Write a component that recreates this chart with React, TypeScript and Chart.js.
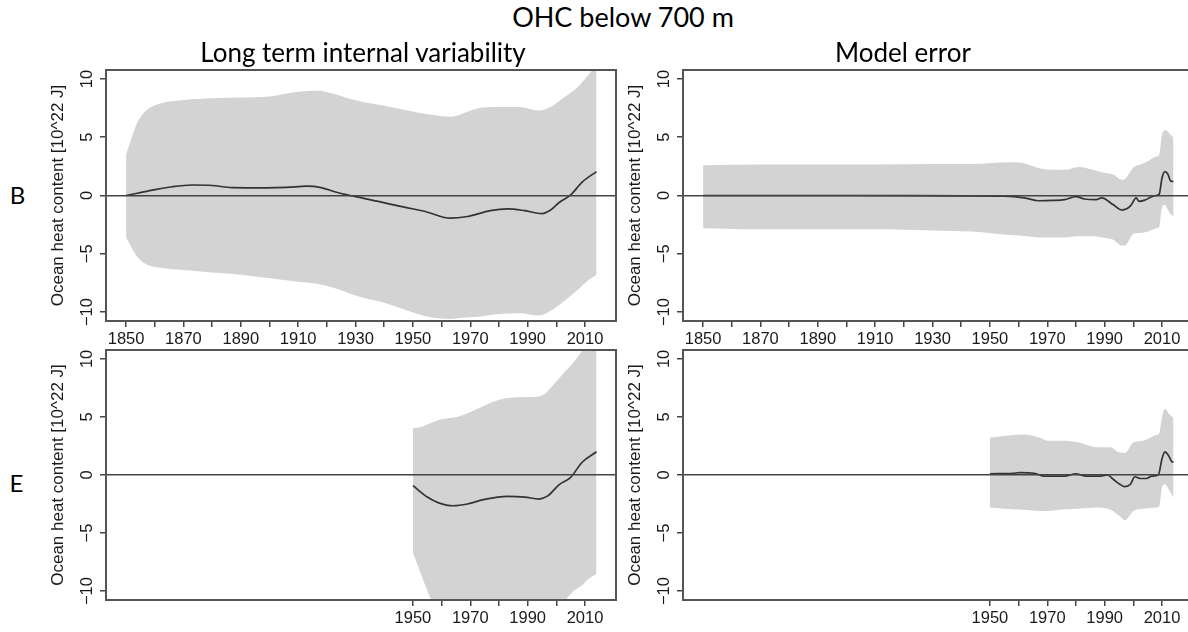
import React, { useEffect, useRef } from 'react';
import { Chart, registerables } from 'chart.js';

Chart.register(...registerables);

// ---------- text ----------
const mainTitle = 'OHC below 700 m';
const columnTitles = ['Long term internal variability', 'Model error'];
const rowLabels = ['B', 'E'];
const yAxisTitle = 'Ocean heat content [10^22 J]';

// ---------- axes ----------
const xTicksFull = [1850, 1860, 1870, 1880, 1890, 1900, 1910, 1920, 1930, 1940, 1950, 1960, 1970, 1980, 1990, 2000, 2010];
const xLabelsFull = [1850, 1870, 1890, 1910, 1930, 1950, 1970, 1990, 2010];
const xTicksRecent = [1950, 1960, 1970, 1980, 1990, 2000, 2010];
const xLabelsRecent = [1950, 1970, 1990, 2010];
const yTicks = [-10, -5, 0, 5, 10];

// ---------- B, long term internal variability ----------
const bandYearsB = [1850, 1852, 1854, 1857, 1862, 1870, 1880, 1890, 1900, 1910, 1917, 1922, 1928, 1933, 1940, 1946, 1952, 1957, 1963, 1967, 1973, 1979, 1987, 1994, 1998, 2002, 2007, 2011, 2014];
const upperB = [3.5, 5.0, 6.3, 7.3, 7.9, 8.2, 8.35, 8.4, 8.5, 8.9, 9.0, 8.75, 8.3, 8.0, 7.7, 7.4, 7.1, 6.9, 6.75, 7.0, 7.5, 7.6, 7.6, 7.3, 7.6, 8.3, 9.2, 10.3, 11.2];
const lowerB = [-3.6, -4.5, -5.3, -5.9, -6.2, -6.4, -6.6, -6.8, -7.1, -7.4, -7.6, -7.9, -8.4, -8.8, -9.2, -9.7, -10.2, -10.5, -10.6, -10.5, -10.4, -10.2, -10.1, -10.3, -9.9, -9.2, -8.2, -7.3, -6.8];
const lineYearsB = [1850, 1855, 1860, 1866, 1873, 1880, 1887, 1899, 1906, 1913, 1918, 1923, 1930, 1939, 1947, 1954, 1963, 1969, 1977, 1983, 1989, 1995, 1998, 2001, 2005, 2009, 2014];
const lineValuesB = [0, 0.25, 0.5, 0.75, 0.9, 0.86, 0.68, 0.66, 0.7, 0.8, 0.68, 0.3, -0.1, -0.57, -1.0, -1.35, -1.95, -1.8, -1.3, -1.15, -1.3, -1.55, -1.25, -0.6, 0.05, 1.15, 2.05];

// ---------- B, model error ----------
const bandYearsBM = [1850, 1870, 1890, 1910, 1930, 1944, 1957, 1961, 1968, 1976, 1981, 1986, 1989, 1993, 1996, 1997, 2000, 2003, 2006, 2008, 2009, 2010, 2011, 2012, 2013, 2014];
const upperBM = [2.6, 2.65, 2.65, 2.65, 2.7, 2.7, 2.85, 2.8, 2.3, 2.2, 2.45, 2.2, 2.0, 1.8, 1.35, 1.4, 2.4, 2.7, 3.1, 3.35, 3.5, 5.2, 5.6, 5.5, 5.2, 5.0];
const lowerBM = [-2.8, -2.9, -2.9, -2.9, -3.0, -3.1, -3.4, -3.45, -3.6, -3.6, -3.5, -3.5, -3.6, -3.8, -4.3, -4.3, -3.3, -3.2, -3.0, -2.8, -2.7, -1.0, -0.8, -1.2, -1.6, -1.8];
const lineYearsBM = [1850, 1900, 1940, 1955, 1962, 1967, 1972, 1976, 1980, 1983, 1987, 1989, 1993, 1996, 1999, 2001, 2002, 2004, 2006, 2008, 2009, 2010, 2011, 2012, 2013, 2014];
const lineValuesBM = [0, 0, -0.03, -0.05, -0.2, -0.45, -0.42, -0.35, -0.1, -0.3, -0.35, -0.2, -0.8, -1.25, -0.9, -0.2, -0.5, -0.4, -0.15, 0, 0.1, 1.5, 2.05, 1.85, 1.25, 1.2];

// ---------- E, long term internal variability ----------
const bandYearsE = [1950, 1952, 1953.5, 1956.5, 1960, 1966, 1973, 1979, 1986, 1993, 1996, 1999, 2003, 2006, 2009, 2011, 2014];
const upperE = [4.0, 4.1, 4.2, 4.5, 4.8, 5.05, 5.75, 6.4, 6.7, 6.75, 7.0, 7.8, 8.9, 9.7, 10.7, 11.5, 12.5];
const lowerE = [-6.7, -8.0, -9.0, -10.8, -11.8, -12.5, -12.8, -12.8, -12.6, -12.4, -12.0, -11.5, -10.8, -10.0, -9.5, -9.0, -8.5];
const lineYearsE = [1950, 1955, 1959, 1964, 1969, 1975, 1983, 1989, 1994, 1997, 2001, 2005, 2009, 2014];
const lineValuesE = [-0.92, -1.9, -2.4, -2.65, -2.5, -2.1, -1.84, -1.9, -2.07, -1.8, -0.83, -0.2, 1.1, 2.0];

// ---------- E, model error ----------
const bandYearsEM = [1950, 1958, 1961.5, 1967.5, 1970, 1976, 1981, 1987, 1992, 1995, 1997, 2000, 2003.5, 2008, 2009, 2010, 2011, 2012.5, 2014];
const upperEM = [3.2, 3.45, 3.5, 3.2, 2.96, 2.96, 2.8, 2.4, 2.4, 1.95, 1.9, 2.8, 2.96, 3.45, 3.6, 5.0, 5.7, 5.25, 4.9];
const lowerEM = [-2.8, -2.95, -3.0, -3.1, -3.1, -2.95, -2.9, -2.8, -3.0, -3.5, -3.9, -3.1, -2.9, -2.8, -2.7, -1.06, -0.8, -1.3, -2.0];
const lineYearsEM = [1950, 1958, 1960.5, 1965.5, 1969, 1976, 1980, 1983.5, 1988, 1991, 1993, 1995.3, 1997, 1999, 2000.5, 2002.3, 2004.6, 2006.4, 2008.7, 2010, 2011, 2012.2, 2013.4, 2014];
const lineValuesEM = [0.1, 0.15, 0.2, 0.15, -0.1, -0.1, 0.1, -0.1, -0.1, 0, -0.37, -0.8, -1.0, -0.8, -0.15, -0.3, -0.3, -0.1, 0, 1.4, 2.0, 1.7, 1.15, 1.1];

// ---------- style ----------
const X_MIN = 1843;
const X_MAX = 2020.8;
const Y_MIN = -10.77;
const Y_MAX = 10.77;
const BAND_COLOR = '#d3d3d3';
const LINE_COLOR = '#333333';
const AXIS_COLOR = '#444444';
const TEXT_COLOR = '#1a1a1a';
const TICK_FONT = { family: 'Liberation Sans', size: 16.5 };
const TITLE_FONT = { family: 'Liberation Sans', size: 17 };

const framePlugin = {
  id: 'frame',
  afterDraw(chart: any) {
    const { ctx, chartArea } = chart;
    ctx.save();
    ctx.strokeStyle = '#555555';
    ctx.lineWidth = 2;
    ctx.strokeRect(chartArea.left, chartArea.top, chartArea.right - chartArea.left, chartArea.bottom - chartArea.top);
    ctx.restore();
  },
};

type PanelProps = {
  left: number;
  top: number;
  height: number;
  bandYears: number[];
  upper: number[];
  lower: number[];
  lineYears: number[];
  lineValues: number[];
  xTicks: number[];
  xLabels: number[];
};

function pts(xs: number[], ys: number[]) {
  return xs.map((x, i) => ({ x, y: ys[i] }));
}

function Panel(p: PanelProps) {
  const ref = useRef<HTMLCanvasElement>(null);
  useEffect(() => {
    const chart = new Chart(ref.current as HTMLCanvasElement, {
      type: 'line',
      data: {
        datasets: [
          {
            data: pts(p.lineYears, p.lineValues),
            borderColor: LINE_COLOR,
            borderWidth: 1.7,
            pointRadius: 0,
            fill: false,
            cubicInterpolationMode: 'monotone',
            clip: 0,
          },
          {
            data: pts(p.bandYears, p.lower),
            borderColor: 'rgba(0,0,0,0)',
            borderWidth: 0,
            pointRadius: 0,
            fill: false,
            cubicInterpolationMode: 'monotone',
            clip: 0,
          },
          {
            data: pts(p.bandYears, p.upper),
            borderColor: 'rgba(0,0,0,0)',
            borderWidth: 0,
            pointRadius: 0,
            fill: '-1',
            backgroundColor: BAND_COLOR,
            cubicInterpolationMode: 'monotone',
            clip: 0,
          },
        ],
      } as any,
      options: {
        animation: false,
        responsive: false,
        devicePixelRatio: 1,
        events: [],
        layout: { padding: { left: 0, right: 24, top: 20, bottom: 0 } },
        plugins: {
          legend: { display: false },
          tooltip: { enabled: false },
          title: { display: false },
        },
        scales: {
          x: {
            type: 'linear',
            min: X_MIN,
            max: X_MAX,
            afterBuildTicks: (s: any) => {
              s.ticks = p.xTicks.map((v) => ({ value: v }));
            },
            afterFit: (s: any) => {
              s.height = p.height - 20 - 251 + (p.height === 309 ? 1 : 0);
            },
            grid: { drawOnChartArea: false, drawTicks: true, tickLength: 6, tickColor: AXIS_COLOR, lineWidth: 1.5 },
            border: { display: false },
            ticks: {
              autoSkip: false,
              maxRotation: 0,
              minRotation: 0,
              padding: 3,
              color: TEXT_COLOR,
              font: TICK_FONT,
              callback: (v: any) => (p.xLabels.includes(Number(v)) ? String(v) : ''),
            },
          },
          y: {
            type: 'linear',
            min: Y_MIN,
            max: Y_MAX,
            afterBuildTicks: (s: any) => {
              s.ticks = yTicks.map((v) => ({ value: v }));
            },
            afterFit: (s: any) => {
              s.width = 66;
            },
            grid: {
              color: (c: any) => (c.tick && c.tick.value === 0 ? AXIS_COLOR : 'rgba(0,0,0,0)'),
              lineWidth: 1.5,
              drawTicks: true,
              tickLength: 6,
              tickColor: AXIS_COLOR,
              z: 1,
            },
            border: { display: false },
            ticks: {
              minRotation: 90,
              maxRotation: 90,
              crossAlign: 'center',
              padding: -1.5,
              color: TEXT_COLOR,
              font: TICK_FONT,
              callback: (v: any) => (Number(v) < 0 ? '\u2212' + Math.abs(Number(v)) : String(v)),
            },
            title: {
              display: true,
              text: yAxisTitle,
              color: TEXT_COLOR,
              font: TITLE_FONT,
              padding: { top: 8, bottom: 0 },
            },
          },
        },
      } as any,
      plugins: [framePlugin],
    });
    return () => chart.destroy();
  }, []);
  return (
    <canvas
      ref={ref}
      width={600}
      height={p.height}
      style={{ position: 'absolute', left: p.left, top: p.top, width: 600, height: p.height }}
    />
  );
}

const textBase: React.CSSProperties = {
  position: 'absolute',
  fontFamily: 'Lato, "Open Sans", sans-serif',
  color: '#000',
  lineHeight: 1,
  whiteSpace: 'nowrap',
  textAlign: 'center',
};

export default function App() {
  return (
    <div
      style={{
        position: 'absolute',
        left: 0,
        top: 0,
        width: 1188,
        height: 632,
        overflow: 'hidden',
        background: '#fff',
      }}
    >
      <Panel left={40} top={50} height={310} bandYears={bandYearsB} upper={upperB} lower={lowerB} lineYears={lineYearsB} lineValues={lineValuesB} xTicks={xTicksFull} xLabels={xLabelsFull} />
      <Panel left={617} top={50} height={310} bandYears={bandYearsBM} upper={upperBM} lower={lowerBM} lineYears={lineYearsBM} lineValues={lineValuesBM} xTicks={xTicksFull} xLabels={xLabelsFull} />
      <Panel left={40} top={330} height={309} bandYears={bandYearsE} upper={upperE} lower={lowerE} lineYears={lineYearsE} lineValues={lineValuesE} xTicks={xTicksRecent} xLabels={xLabelsRecent} />
      <Panel left={617} top={330} height={309} bandYears={bandYearsEM} upper={upperEM} lower={lowerEM} lineYears={lineYearsEM} lineValues={lineValuesEM} xTicks={xTicksRecent} xLabels={xLabelsRecent} />

      <div style={{ ...textBase, left: 423, width: 400, top: 3, fontSize: 27 }}>{mainTitle}</div>
      <div style={{ ...textBase, left: 163, width: 400, top: 39, fontSize: 26 }}>{columnTitles[0]}</div>
      <div style={{ ...textBase, left: 703, width: 400, top: 39, fontSize: 26 }}>{columnTitles[1]}</div>
      <div style={{ ...textBase, left: 0, width: 35, top: 183, fontSize: 24 }}>{rowLabels[0]}</div>
      <div style={{ ...textBase, left: 0, width: 33, top: 471, fontSize: 24 }}>{rowLabels[1]}</div>
    </div>
  );
}
